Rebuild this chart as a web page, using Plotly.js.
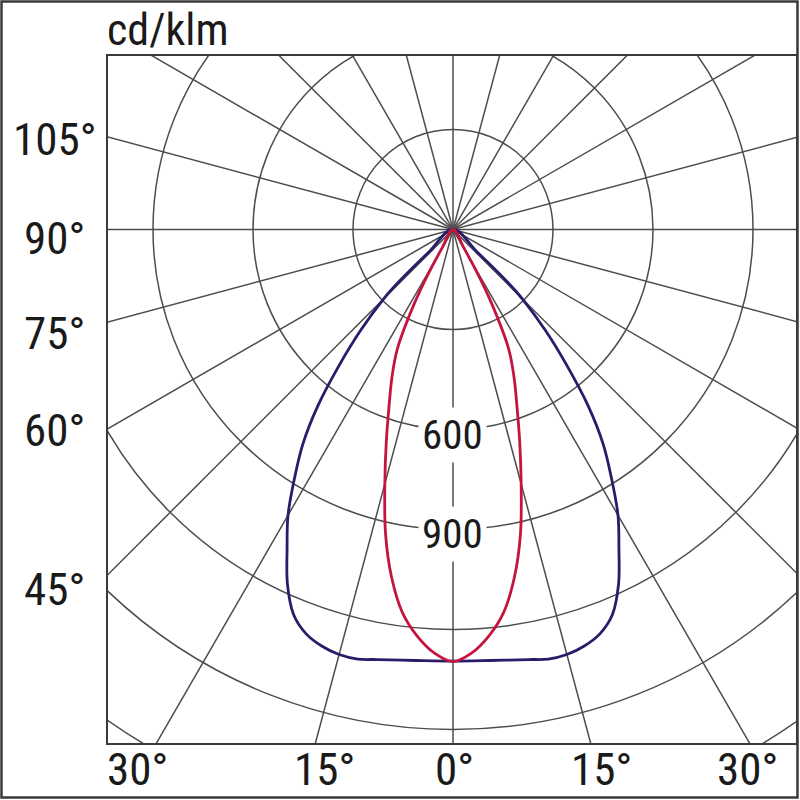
<!DOCTYPE html>
<html>
<head>
<meta charset="utf-8">
<script src="https://cdn.plot.ly/plotly-3.0.1.min.js"></script>
<style>
html,body{margin:0;padding:0;background:#fff;overflow:hidden;}
#chart{width:800px;height:800px;}
</style>
</head>
<body>
<div id="chart"></div>
<script>
// ---- data ----
const unitLabel = "cd/klm";
// gamma angles (deg from nadir) and intensities (cd/klm), narrow (red) curve
const redGamma = [0, 2.5, 5, 7.5, 10, 12.5, 15, 17.5, 20, 22.5, 25, 27.5, 29, 30.5, 32];
const redI     = [1296, 1272, 1225, 1160, 1060, 935, 790, 665, 560, 478, 395, 255, 160, 65, 0];
// wide (blue) curve
const blueGamma = [0, 5, 10, 12.5, 15, 17.5, 20, 22.5, 25, 27.5, 30, 32.5, 35, 37.5, 40, 42.5, 45, 46, 47, 48];
const blueI     = [1295, 1298, 1310, 1320, 1320, 1310, 1290, 1250, 1175, 1078, 990, 885, 785, 665, 530, 410, 295, 230, 100, 0];
// grid
const ringValues = [300, 600, 900, 1200, 1500, 1800];
const ringLabels = ["600", "900"];
const spokeAngles = [0, 15, 30, 45, 60, 75, 90, 105, 120, 135, 150, 165, 180, 195, 210, 225, 240, 255, 270, 285, 300, 315, 330, 345];
const leftTickLabels = ["105°", "90°", "75°", "60°", "45°"];
const bottomTickLabels = ["30°", "15°", "0°", "15°", "30°"];

// ---- layout geometry (pixels) ----
const W = 800, H = 800;
const M = {l: 108, r: 4, t: 56, b: 57};
const CX = 453, CY = 229.5;   // pole position in px
const K = 3;                  // cd/klm per pixel
const toX = px => (px - CX) * K;
const toY = py => (CY - py) * K;
const xr = [toX(M.l), toX(W - M.r)];
const yr = [toY(H - M.b), toY(M.t)];
const pxX = px => (px - M.l) / (W - M.l - M.r);
const pxY = py => (H - M.b - py) / (H - M.t - M.b);

const FONT = '"Roboto Condensed", "Liberation Sans Narrow", "DejaVu Sans Condensed", Roboto, sans-serif';
const GRID = '#4d4d4d';
const INK = '#1a1a1a';

function polarTrace(gam, vals, color) {
  // mirror: C180 side (left) then C0 side (right)
  const g = [], v = [];
  for (let i = gam.length - 1; i > 0; i--) { g.push(-gam[i]); v.push(vals[i]); }
  for (let i = 0; i < gam.length; i++) { g.push(gam[i]); v.push(vals[i]); }
  const x = g.map((a, i) => v[i] * Math.sin(a * Math.PI / 180));
  const y = g.map((a, i) => -v[i] * Math.cos(a * Math.PI / 180));
  return {x, y, type: 'scatter', mode: 'lines', hoverinfo: 'skip',
          line: {color, width: 2.8, shape: 'spline', smoothing: 1}};
}

const traces = [
  polarTrace(blueGamma, blueI, '#2a1c6b'),
  polarTrace(redGamma, redI, '#c4143f')
];

const shapes = [];
ringValues.forEach(r => shapes.push({type: 'circle', xref: 'x', yref: 'y', layer: 'below',
  x0: -r, x1: r, y0: -r, y1: r, line: {color: GRID, width: 1.5}}));
spokeAngles.forEach(a => {
  const R = 4000, t = a * Math.PI / 180;
  shapes.push({type: 'line', xref: 'x', yref: 'y', layer: 'below',
    x0: 0, y0: 0, x1: R * Math.sin(t), y1: -R * Math.cos(t), line: {color: GRID, width: 1.5}});
});
// outer frame of the picture
shapes.push({type: 'rect', xref: 'paper', yref: 'paper', layer: 'above',
  x0: pxX(1.5), x1: pxX(797.5), y0: pxY(797.5), y1: pxY(1.5), line: {color: '#3a3a3a', width: 2.5}});

const annotations = [];
function label(t, px, py, size, xanchor) {
  annotations.push({text: t, xref: 'paper', yref: 'paper', x: pxX(px), y: pxY(py),
    xanchor: xanchor || 'center', yanchor: 'middle', showarrow: false,
    font: {family: FONT, size, color: INK}});
}
label(unitLabel, 105, 30, 44, 'left');
const leftY = [139.5, 238, 333, 430, 589];
leftTickLabels.forEach((t, i) => label(t, 54, leftY[i], 45));
const botX = [137, 324, 454, 601, 747];
bottomTickLabels.forEach((t, i) => label(t, botX[i], 769, 45));
const ringLabelPos = [[452, 435], [452, 534]];
ringLabels.forEach((t, i) => annotations.push({text: t, xref: 'x', yref: 'y', x: toX(ringLabelPos[i][0]), y: toY(ringLabelPos[i][1]),
  xanchor: 'center', yanchor: 'middle', showarrow: false, bgcolor: '#ffffff', borderpad: 3,
  font: {family: FONT, size: 41, color: INK}}));

const axisCommon = {showgrid: false, zeroline: false, showticklabels: false, ticks: '',
  showline: true, mirror: true, linecolor: '#3a3a3a', linewidth: 2, fixedrange: true};

const layout = {
  width: W, height: H, margin: M, showlegend: false,
  paper_bgcolor: '#ffffff', plot_bgcolor: '#ffffff',
  xaxis: Object.assign({range: xr}, axisCommon),
  yaxis: Object.assign({range: yr}, axisCommon),
  shapes, annotations
};

Plotly.newPlot('chart', traces, layout, {displayModeBar: false, staticPlot: true});
</script>
</body>
</html>
